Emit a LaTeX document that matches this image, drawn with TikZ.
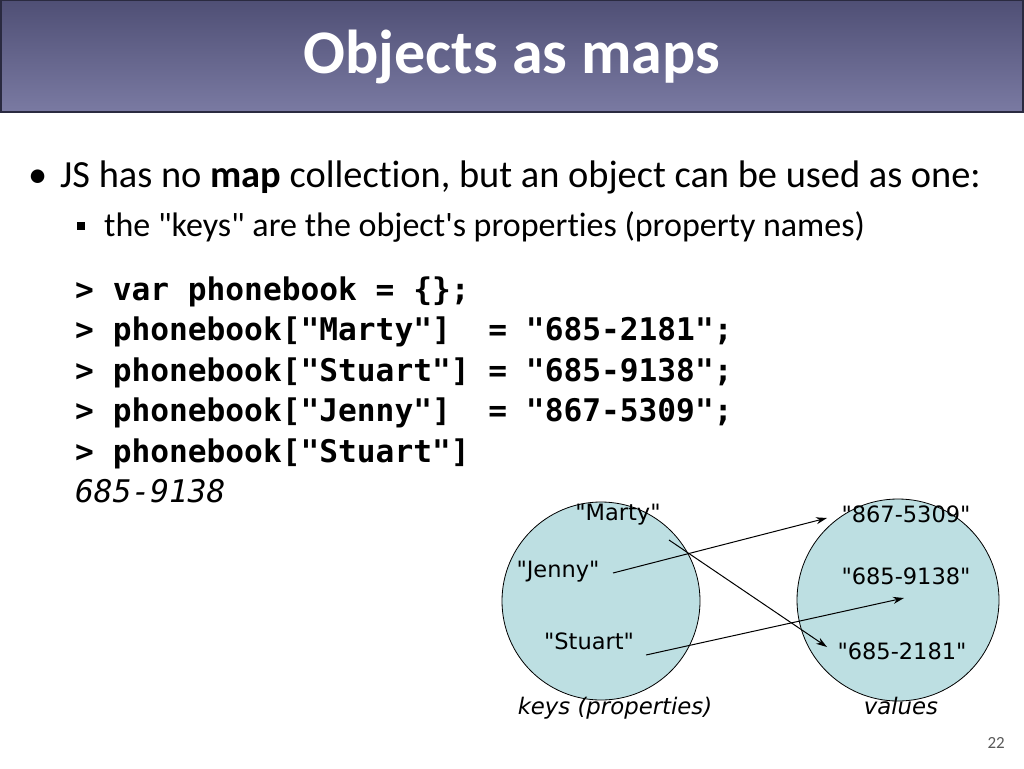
\documentclass[tikz,border=0pt]{standalone}
\usepackage{fontspec}
\newfontfamily\bodyfont{Carlito}[Ligatures=NoCommon]
\newfontfamily\codefont{DejaVu Sans Mono}
\newfontfamily\labfont{DejaVu Sans}
\usetikzlibrary{arrows.meta}
\definecolor{hdtop}{HTML}{4F4F75}
\definecolor{hdbot}{HTML}{7A7AA2}
\definecolor{hdline}{HTML}{2A2A40}
\definecolor{setfill}{HTML}{BDDFE2}
\definecolor{pgnum}{HTML}{595959}
\tikzset{
  titletxt/.style={font=\bodyfont\fontsize{62}{66}\selectfont\bfseries, text=white, inner sep=0},
  bodytxt/.style={font=\bodyfont\fontsize{38.4}{42}\selectfont, anchor=base west, inner sep=0},
  subtxt/.style={font=\bodyfont\fontsize{34}{37}\selectfont, anchor=base west, inner sep=0},
  codetxt/.style={font=\codefont\fontsize{31.2}{34}\selectfont\bfseries, anchor=base west, inner sep=0},
  outtxt/.style={font=\codefont\fontsize{31.2}{34}\selectfont\itshape, anchor=base west, inner sep=0},
  setc/.style={circle, draw=black, line width=0.8, fill=setfill, minimum size=198, inner sep=0},
  lab/.style={font=\labfont\fontsize{22.5}{25}\selectfont, inner sep=0},
  captxt/.style={font=\labfont\fontsize{22.8}{25}\selectfont\itshape, anchor=base, inner sep=0},
  arr/.style={-{Stealth[length=11pt,width=7pt]}, line width=1},
}
\begin{document}
\begin{tikzpicture}[x=1pt,y=-1pt]
\useasboundingbox (0,0) rectangle (1024,768);
\fill[white] (0,0) rectangle (1024,768);
% header
\shade[top color=hdtop, bottom color=hdbot] (0,0) rectangle (1023,112);
\draw[hdline, line width=1.5] (0.75,0.75) rectangle (1023,112);
\node[titletxt] (ttl) at (512,57) {Objects as maps};
% bullets
\node[bodytxt] (b1dot) at (28,187) {•};
\node[bodytxt] (b1) at (60,187) {JS has no \textbf{map} collection, but an object can be used as one:};
\node[fill=black, minimum size=7.5, inner sep=0] (b2dot) at (81,226) {};
\node[subtxt] (b2) at (104,236) {the "keys" are the object's properties (property names)};
% code
\node[codetxt] (c1) at (75,300) {> var phonebook = \{\};};
\node[codetxt] (c2) at (75,340) {> phonebook["Marty"]\ \ = "685-2181";};
\node[codetxt] (c3) at (75,381) {> phonebook["Stuart"] = "685-9138";};
\node[codetxt] (c4) at (75,421) {> phonebook["Jenny"]\ \ = "867-5309";};
\node[codetxt] (c5) at (75,462) {> phonebook["Stuart"]};
\node[outtxt] (c6) at (75,502) {685-9138};
% sets
\node[setc] (keys) at (601,601) {};
\node[setc, minimum size=202] (vals) at (898,600) {};
\node[lab] (marty) at (618,515) {"Marty"};
\node[lab] (jenny) at (558,572) {"Jenny"};
\node[lab] (stuart) at (589,641) {"Stuart"};
\node[lab] (v1) at (906,514) {"867-5309"};
\node[lab] (v2) at (906,576) {"685-9138"};
\node[lab] (v3) at (902,651) {"685-2181"};
\node[captxt] (kcap) at (615,714) {keys (properties)};
\node[captxt] (vcap) at (901,714) {values};
% arrows
\coordinate (jS) at (613,573);
\coordinate (jE) at (827,518);
\coordinate (mS) at (669,540);
\coordinate (mE) at (827,647);
\coordinate (sS) at (646,655);
\coordinate (sE) at (904,598);
\draw[arr] (jS) -- (jE);
\draw[arr] (mS) -- (mE);
\draw[arr] (sS) -- (sE);
% page number
\node[font=\bodyfont\fontsize{17}{19}\selectfont, text=pgnum, anchor=base east, inner sep=0] (pg) at (1005,748) {22};
\end{tikzpicture}
\end{document}
